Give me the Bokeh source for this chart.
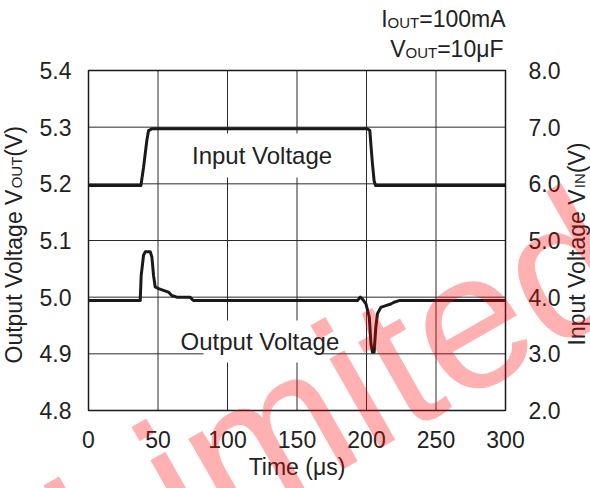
from bokeh.plotting import figure
from bokeh.models import Label, Range1d, LinearAxis, FixedTicker, PrintfTickFormatter
from bokeh.embed import file_html
from bokeh.resources import INLINE
import math

# ---- data -------------------------------------------------------------
# input step (right axis, V)
t_in = [0, 37.7, 39.6, 40.8, 42.0, 43.2, 45.6, 100, 200.7, 202.4, 203.3, 204.3, 205.5, 206.5, 300]
v_in = [5.97, 5.97, 6.29, 6.53, 6.77, 6.94, 6.97, 6.97, 6.97, 6.94, 6.65, 6.35, 6.05, 5.97, 5.97]

# output response (left axis, V)
t_out = [0, 37.2, 37.9, 39.6, 40.8, 44.4, 45.6, 46.8, 48.0, 50.4,
         53.9, 57.5, 59.9, 63.5, 73.0, 75.4, 77.8, 193.5, 195.5, 197.0,
         199.6, 202.0, 203.2, 204.3, 205.5, 206.7, 207.9, 210.3, 213.9, 217.5,
         219.8, 223.4, 300]
v_out = [4.994, 4.994, 5.038, 5.074, 5.080, 5.080, 5.071, 5.038, 5.018, 5.015,
         5.012, 5.009, 5.003, 5.000, 5.000, 4.994, 4.994, 4.994, 5.000, 4.997,
         4.988, 4.965, 4.918, 4.903, 4.903, 4.947, 4.971, 4.982, 4.985, 4.988,
         4.991, 4.994, 4.994]

x_ticks = [0, 50, 100, 150, 200, 250, 300]
vout_ticks = [4.8, 4.9, 5.0, 5.1, 5.2, 5.3, 5.4]
vin_ticks = [2.0, 3.0, 4.0, 5.0, 6.0, 7.0, 8.0]

# ---- layout -----------------------------------------------------------
# The plotting frame fills the whole canvas; the chart box sits at
# pixels (88..505, 70..410) and the axes are pinned to its edges.
W, H = 590, 488
BL, BR, BT, BB = 88, 505, 70, 410
X0, X1 = 0, 300
Y0, Y1 = 4.8, 5.4
V0, V1 = 2.0, 8.0

FONT = "Liberation Sans"
INK = "#222222"
BIG = 23
SMALL = 15
MID = 0.3465  # em-box middle above the baseline (Arial metrics)

# Arial advance widths (per 1000 em) for the characters used in the labels
ADV = {' ': 278, '(': 333, ')': 333, '=': 584, 'A': 667, 'F': 611, 'I': 278,
       'N': 722, 'O': 778, 'T': 611, 'U': 722, 'V': 667, 'a': 556, 'e': 556,
       'g': 556, 'l': 222, 'm': 833, 'n': 556, 'o': 556, 'p': 556, 't': 278,
       'u': 556, 'μ': 576}
for d in "0123456789":
    ADV[d] = 556


def text_w(s, size):
    return sum(ADV.get(c, 556) for c in s) * size / 1000.0


def dx(px):
    return X0 + (px - BL) * (X1 - X0) / (BR - BL)


def dy(py):
    return Y1 - (py - BT) * (Y1 - Y0) / (BB - BT)


def dv(py):
    return V1 - (py - BT) * (V1 - V0) / (BB - BT)


p = figure(width=W, height=H,
           x_range=Range1d(dx(0), dx(W)), y_range=Range1d(dy(H), dy(0)),
           output_backend="svg", toolbar_location=None, title=None,
           min_border=0, min_border_left=0, min_border_right=0,
           min_border_top=0, min_border_bottom=0)
p.extra_y_ranges = {"vin": Range1d(dv(H), dv(0))}

p.outline_line_color = None
p.background_fill_color = "white"
p.border_fill_color = "white"
p.xgrid.visible = False
p.ygrid.visible = False


def style_axis(ax, standoff):
    ax.axis_line_color = None
    ax.major_tick_line_color = None
    ax.minor_tick_line_color = None
    ax.major_label_text_font = FONT
    ax.major_label_text_font_size = f"{BIG}px"
    ax.major_label_text_color = INK
    ax.major_label_standoff = standoff


xa = p.xaxis[0]
xa.ticker = FixedTicker(ticks=x_ticks)
xa.fixed_location = Y0
xa.bounds = (X0, X1)
style_axis(xa, 14)

ya = p.yaxis[0]
ya.ticker = FixedTicker(ticks=vout_ticks)
ya.formatter = PrintfTickFormatter(format="%.1f")
ya.fixed_location = X0
ya.bounds = (Y0, Y1)
style_axis(ya, 11)

ax_r = LinearAxis(y_range_name="vin", ticker=FixedTicker(ticks=vin_ticks),
                  formatter=PrintfTickFormatter(format="%.1f"),
                  fixed_location=X1, bounds=(V0, V1))
style_axis(ax_r, 17)
p.add_layout(ax_r, "right")

# grid inside the chart box
GRID = "#2a2a2a"
p.segment(x0=x_ticks, x1=x_ticks, y0=[Y0] * len(x_ticks), y1=[Y1] * len(x_ticks),
          line_color=GRID, line_width=1)
p.segment(x0=[X0] * len(vout_ticks), x1=[X1] * len(vout_ticks), y0=vout_ticks, y1=vout_ticks,
          line_color=GRID, line_width=1)

# white boxes behind the in-plot captions
p.quad(left=[dx(183), dx(203)], right=[dx(340), dx(316)],
       top=[dy(133), dy(320)], bottom=[dy(177), dy(362)],
       fill_color="white", line_color=None)

# chart box
p.quad(left=[X0], right=[X1], bottom=[Y0], top=[Y1],
       fill_color=None, line_color="#1a1a1a", line_width=1.5)

p.line(t_in, v_in, y_range_name="vin", line_color="#1a1a1a", line_width=3, line_join="round")
p.line(t_out, v_out, line_color="#1a1a1a", line_width=3, line_join="round")


def label(px, py, text, size=BIG, align="left", angle=0.0, **kw):
    # px, py: canvas pixels from the top-left corner (py = middle of the em box)
    p.add_layout(Label(x=px, y=py, x_units="canvas", y_units="canvas",
                       text=text, text_font=FONT,
                       text_font_size=f"{size}px", text_color=kw.pop("color", INK),
                       text_align=align, text_baseline="middle", angle=angle, **kw))


# in-plot captions
label(191.5, 155, "Input Voltage", size=24)
label(180, 340.5, "Output Voltage", size=24)


# conditions, top right (small-caps subscripts on a shared baseline)
def cond_line(right_px, base_py, parts):
    x = right_px
    for txt, size in reversed(parts):
        label(x, base_py - MID * size, txt, size=size, align="right")
        x -= text_w(txt, size)


cond_line(505, 26.7, [("I", BIG), ("OUT", SMALL), ("=100mA", BIG)])
cond_line(503, 56.7, [("V", BIG), ("OUT", SMALL), ("=10μF", BIG)])

# x axis title
label((BL + BR) / 2, 466, "Time (μs)", align="center")


# vertical axis titles, reading bottom to top; base_px is the text baseline
def vert_title(base_px, start_py, parts):
    y = start_py
    for txt, size in parts:
        label(base_px - MID * size, y, txt, size=size, angle=math.pi / 2)
        y -= text_w(txt, size)


vert_title(21, 363, [("Output Voltage V", BIG), ("OUT", SMALL), ("(V)", BIG)])
vert_title(584, 345, [("Input Voltage V", BIG), ("IN", SMALL), ("(V)", BIG)])

# diagonal stamp across the chart (baseline start at canvas 95, 609)
STAMP = 195
ang = math.radians(29.6)
sx = 95 - MID * STAMP * math.sin(ang)
sy = 609 - MID * STAMP * math.cos(ang)
p.add_layout(Label(x=sx, y=sy, x_units="canvas", y_units="canvas",
                   text="Limited", text_font=FONT,
                   text_font_size=f"{STAMP}px",
                   text_color="#ff0000", text_alpha=0.31,
                   text_align="left", text_baseline="middle", angle=ang))

open("out.html", "w").write(file_html(p, INLINE))
